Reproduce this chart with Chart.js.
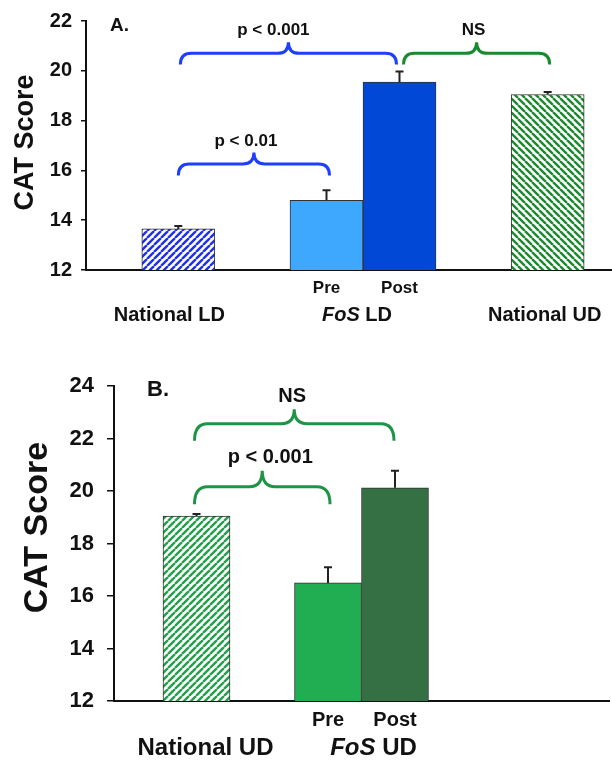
<!DOCTYPE html>
<html>
<head>
<meta charset="utf-8">
<script src="https://cdn.jsdelivr.net/npm/chart.js@4/dist/chart.umd.min.js"></script>
<style>
  html, body { margin: 0; padding: 0; background: #fff; }
  body { width: 612px; height: 760px; overflow: hidden; position: relative; }
  .panel { position: absolute; left: 0; }
  #boxA { top: 0; width: 640px; height: 330px; }
  #boxB { top: 360px; width: 612px; height: 400px; }
</style>
</head>
<body>
<div id="boxA" class="panel"><canvas id="chartA" width="640" height="330"></canvas></div>
<div id="boxB" class="panel"><canvas id="chartB" width="612" height="400"></canvas></div>
<script>
// panel A - learning disabled (LD)
const labelsA = ['National LD', 'FoS LD', 'National UD'];
const nationalLD = [13.65, null, null];
const nationalLDErr = [0.12, null, null];
const fosLDPre = [null, 14.8, null];
const fosLDPreErr = [null, 0.4, null];
const fosLDPost = [null, 19.55, null];
const fosLDPostErr = [null, 0.42, null];
const nationalUDA = [null, null, 19.05];
const nationalUDAErr = [null, null, 0.1];

// panel B - undeclared (UD)
const labelsB = ['National UD', 'FoS UD', ''];
const nationalUDB = [19.05, null, null];
const nationalUDBErr = [0.08, null, null];
const fosUDPre = [null, 16.5, null];
const fosUDPreErr = [null, 0.6, null];
const fosUDPost = [null, 20.13, null];
const fosUDPostErr = [null, 0.65, null];

const FONT = '"Liberation Sans", Arial, Helvetica, sans-serif';

function hatch(color, dir) {
  let p = 7;
  let c = document.createElement('canvas');
  c.width = p; c.height = p;
  let g = c.getContext('2d');
  g.fillStyle = '#fff';
  g.fillRect(0, 0, p, p);
  g.strokeStyle = color;
  g.lineWidth = 2.4;
  g.beginPath();
  for (let k = -p; k <= p; k += p) {
    if (dir == '/') { g.moveTo(k, p); g.lineTo(k + p, 0); }
    else { g.moveTo(k, 0); g.lineTo(k + p, p); }
  }
  g.stroke();
  return g.createPattern(c, 'repeat');
}

// error bars (upper half only, with cap)
const errorBars = {
  id: 'errorBars',
  afterDatasetsDraw(chart) {
    let ctx = chart.ctx, y = chart.scales.y;
    ctx.save();
    ctx.strokeStyle = '#222';
    ctx.lineWidth = 2;
    chart.data.datasets.forEach((ds, di) => {
      chart.getDatasetMeta(di).data.forEach((bar, i) => {
        let v = ds.data[i], e = ds.errors[i];
        if (v == null || e == null) return;
        let top = y.getPixelForValue(v + e);
        ctx.beginPath();
        ctx.moveTo(bar.x, bar.y);
        ctx.lineTo(bar.x, top);
        ctx.moveTo(bar.x - 4, top);
        ctx.lineTo(bar.x + 4, top);
        ctx.stroke();
      });
    });
    ctx.restore();
  }
};

function barX(chart, di, i) {
  return chart.getDatasetMeta(di).data[i].x;
}

// y title, braces, p values, sub labels and group labels
const notes = {
  id: 'notes',
  afterDraw(chart, args, opt) {
    let ctx = chart.ctx, y = chart.scales.y, x = chart.scales.x, area = chart.chartArea;
    ctx.save();
    ctx.fillStyle = '#111';

    // axis title
    ctx.save();
    ctx.translate(opt.titleX, (area.top + area.bottom) / 2 + opt.titleDy);
    ctx.rotate(-Math.PI / 2);
    ctx.textAlign = 'center';
    ctx.textBaseline = 'middle';
    ctx.font = 'bold ' + opt.titleSize + 'px ' + FONT;
    ctx.fillText('CAT Score', 0, 0);
    ctx.restore();

    // panel letter
    ctx.textBaseline = 'middle';
    ctx.textAlign = 'left';
    ctx.font = 'bold ' + opt.letterSize + 'px ' + FONT;
    ctx.fillText(opt.letter, area.left + opt.letterDx, area.top + opt.letterDy);
    ctx.textAlign = 'center';

    // braces
    opt.braces.forEach(b => {
      let x1 = barX(chart, b.from[0], b.from[1]) + (b.dx1 || 0);
      let x2 = barX(chart, b.to[0], b.to[1]) + (b.dx2 || 0);
      let xm = (x1 + x2) / 2;
      let yE = y.getPixelForValue(b.ends), yH = y.getPixelForValue(b.mid), yT = y.getPixelForValue(b.tip);
      let r = opt.radius;
      ctx.strokeStyle = b.color;
      ctx.lineWidth = 3;
      ctx.beginPath();
      ctx.moveTo(x1, yE);
      ctx.quadraticCurveTo(x1, yH, x1 + r, yH);
      ctx.lineTo(xm - r, yH);
      ctx.quadraticCurveTo(xm, yH, xm, yT);
      ctx.quadraticCurveTo(xm, yH, xm + r, yH);
      ctx.lineTo(x2 - r, yH);
      ctx.quadraticCurveTo(x2, yH, x2, yE);
      ctx.stroke();
      ctx.font = 'bold ' + opt.noteSize + 'px ' + FONT;
      ctx.textBaseline = 'bottom';
      ctx.fillText(b.text, xm + (b.tdx || 0), yT - 3);
    });

    // Pre / Post under the paired bars
    ctx.textBaseline = 'middle';
    ctx.font = 'bold ' + opt.subSize + 'px ' + FONT;
    opt.subs.forEach(s => {
      ctx.fillText(s.text, barX(chart, s.ds, s.i), area.bottom + opt.subDy);
    });

    // group labels, FoS in italics
    chart.data.labels.forEach((lab, i) => {
      if (!lab) return;
      let cx = x.getPixelForValue(i) + opt.groupDx[i];
      let cy = area.bottom + opt.groupDy;
      let bold = 'bold ' + opt.groupSize + 'px ' + FONT;
      if (lab.startsWith('FoS')) {
        let it = 'italic bold ' + opt.groupSize + 'px ' + FONT;
        let rest = lab.slice(3);
        ctx.font = it; let w1 = ctx.measureText('FoS').width;
        ctx.font = bold; let w2 = ctx.measureText(rest).width;
        let x0 = cx - (w1 + w2) / 2;
        ctx.textAlign = 'left';
        ctx.font = it; ctx.fillText('FoS', x0, cy);
        ctx.font = bold; ctx.fillText(rest, x0 + w1, cy);
        ctx.textAlign = 'center';
      } else {
        ctx.font = bold;
        ctx.fillText(lab, cx, cy);
      }
    });
    ctx.restore();
  }
};

function makeChart(canvas, labels, sets, o) {
  let cfg = {
    type: 'bar',
    data: {
      labels,
      datasets: sets.map(s => ({
        data: s.data, errors: s.errors, backgroundColor: s.bg,
        borderColor: '#333', borderWidth: 1, borderSkipped: 'bottom'
      }))
    },
    options: {
      responsive: false,
      animation: false,
      layout: { padding: { left: 0, right: o.padRight, top: o.padTop, bottom: 0 } },
      datasets: { bar: { skipNull: true, barThickness: o.barThickness } },
      plugins: { legend: { display: false }, tooltip: { enabled: false }, notes: o.notes },
      scales: {
        x: {
          grid: { display: false },
          border: { color: '#111', width: 2 },
          ticks: { display: false },
          afterFit: s => { s.height = o.bottom; }
        },
        y: {
          min: 12, max: o.max,
          ticks: { stepSize: 2, color: '#111', padding: o.tickPad, font: { family: FONT, size: o.tickSize, weight: 'bold' } },
          grid: { drawOnChartArea: false, color: '#111', tickLength: o.tickLen, lineWidth: 1.5 },
          border: { color: '#111', width: 2 },
          afterFit: s => { s.width = o.left; }
        }
      }
    },
    plugins: [errorBars, notes]
  };
  return new Chart(canvas, cfg);
}

makeChart(document.getElementById('chartA'), labelsA, [
  { data: nationalLD, errors: nationalLDErr, bg: hatch('#1f2ff0', '/') },
  { data: fosLDPre, errors: fosLDPreErr, bg: '#3ea8ff' },
  { data: fosLDPost, errors: fosLDPostErr, bg: '#0248d6' },
  { data: nationalUDA, errors: nationalUDAErr, bg: hatch('#1b8a2e', '\\') }
], {
  max: 22, left: 86, bottom: 60, padTop: 20, padRight: 0, barThickness: 73,
  tickSize: 20, tickLen: 5, tickPad: 9,
  notes: {
    titleX: 26, titleDy: -3, titleSize: 27,
    letter: 'A.', letterSize: 19, letterDx: 24, letterDy: 5, radius: 11,
    noteSize: 17, subSize: 17, subDy: 18, groupSize: 20, groupDx: [-9, -6, -3], groupDy: 45,
    subs: [{ text: 'Pre', ds: 1, i: 1 }, { text: 'Post', ds: 2, i: 1 }],
    braces: [
      { text: 'p < 0.001', color: '#1f3fff', from: [0, 0], to: [2, 1], dx1: 2, dx2: -3, tdx: -15, ends: 20.25, mid: 20.7, tip: 21.15 },
      { text: 'NS', color: '#1b8a2e', from: [2, 1], to: [3, 2], dx1: 4, dx2: 2, tdx: -3, ends: 20.25, mid: 20.7, tip: 21.15 },
      { text: 'p < 0.01', color: '#1f3fff', from: [0, 0], to: [1, 1], dx1: 0, dx2: 3, tdx: -8, ends: 15.8, mid: 16.26, tip: 16.72 }
    ]
  }
});

makeChart(document.getElementById('chartB'), labelsB, [
  { data: nationalUDB, errors: nationalUDBErr, bg: hatch('#22a04a', '/') },
  { data: fosUDPre, errors: fosUDPreErr, bg: '#21ad52' },
  { data: fosUDPost, errors: fosUDPostErr, bg: '#356f44' }
], {
  max: 24, left: 114, bottom: 59, padTop: 25, padRight: 3, barThickness: 67,
  tickSize: 22, tickLen: 7, tickPad: 13,
  notes: {
    titleX: 38, titleDy: -16, titleSize: 34,
    letter: 'B.', letterSize: 22, letterDx: 33, letterDy: 4, radius: 13,
    noteSize: 20, subSize: 20, subDy: 19, groupSize: 24, groupDx: [9, 12, 0], groupDy: 47,
    subs: [{ text: 'Pre', ds: 1, i: 1 }, { text: 'Post', ds: 2, i: 1 }],
    braces: [
      { text: 'NS', color: '#1e9447', from: [0, 0], to: [2, 1], dx1: -2, dx2: -1, tdx: -2, ends: 21.92, mid: 22.57, tip: 23.12 },
      { text: 'p < 0.001', color: '#1e9447', from: [0, 0], to: [1, 1], dx1: -2, dx2: 2, tdx: 8, ends: 19.5, mid: 20.17, tip: 20.78 }
    ]
  }
});
</script>
</body>
</html>
